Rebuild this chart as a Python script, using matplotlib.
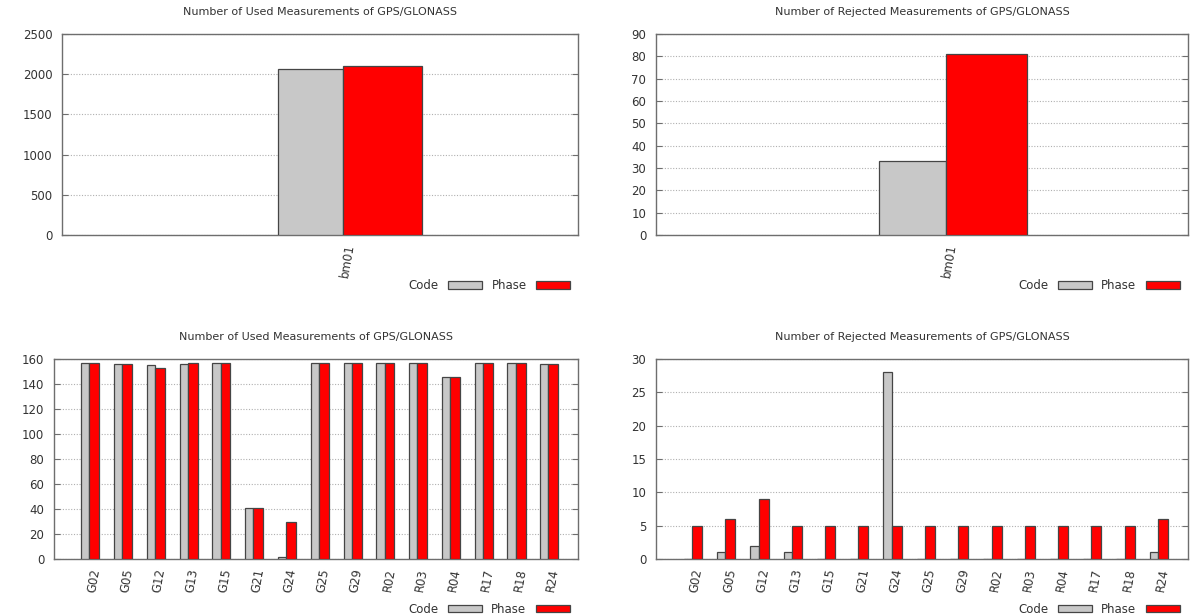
import numpy as np
import matplotlib
matplotlib.use('Agg')
import matplotlib.pyplot as plt
from matplotlib.patches import Patch

# station totals
stations = ['bm01']
used_code_sta = [2065]
used_phase_sta = [2102]
rej_code_sta = [33]
rej_phase_sta = [81]

# per satellite
sats = ['G02', 'G05', 'G12', 'G13', 'G15', 'G21', 'G24', 'G25', 'G29',
        'R02', 'R03', 'R04', 'R17', 'R18', 'R24']
used_code_sat = [157, 156, 155, 156, 157, 41, 2, 157, 157, 157, 157, 146, 157, 157, 156]
used_phase_sat = [157, 156, 153, 157, 157, 41, 30, 157, 157, 157, 157, 146, 157, 157, 156]
rej_code_sat = [0, 1, 2, 1, 0, 0, 28, 0, 0, 0, 0, 0, 0, 0, 1]
rej_phase_sat = [5, 6, 9, 5, 5, 5, 5, 5, 5, 5, 5, 5, 5, 5, 6]

GRAY = '#c8c8c8'
RED = '#ff0000'
EDGE = '#454545'
FRAME = '#6e6e6e'
TXT = '#333333'

plt.rcParams['font.family'] = 'DejaVu Sans'

fig = plt.figure(figsize=(11.92, 6.15), dpi=100)
W, H = 1192.0, 615.0


def px_axes(x0, y0, x1, y1):
    return fig.add_axes([x0 / W, 1 - y1 / H, (x1 - x0) / W, (y1 - y0) / H])


def draw(ax, labels, code, phase, ymax, ystep, title):
    n = len(labels)
    x = np.arange(n)
    ax.bar(x, code, width=-0.25, align='edge', color=GRAY, edgecolor=EDGE, linewidth=0.9, zorder=3)
    ax.bar(x, phase, width=0.3, align='edge', color=RED, edgecolor=EDGE, linewidth=0.9, zorder=3)
    ax.set_xlim(-1.08, n - 0.1)
    ax.set_ylim(0, ymax)
    ax.set_yticks(np.arange(0, ymax + ystep / 2, ystep))
    ax.set_xticks(x)
    ax.set_xticklabels(labels, rotation=80, ha='right', va='top', rotation_mode='anchor',
                       fontsize=8.5, color=TXT)
    ax.tick_params(axis='x', length=0, pad=6)
    ax.tick_params(axis='y', direction='in', length=4, color=FRAME, right=True,
                   labelsize=8.5, labelcolor=TXT, pad=7)
    ax.grid(axis='y', color='#b0b0b0', linestyle=(0, (1, 1.5)), linewidth=0.8, zorder=0)
    for s in ax.spines.values():
        s.set_color(FRAME)
        s.set_linewidth(1.0)
    ax.set_title(title, fontsize=8, color=TXT, pad=14)
    handles = [Patch(facecolor=GRAY, edgecolor=EDGE, linewidth=0.9),
               Patch(facecolor=RED, edgecolor=EDGE, linewidth=0.9)]
    ax.legend(handles, ['Code', 'Phase'], ncol=2, markerfirst=False, frameon=False,
              loc='upper right', bbox_to_anchor=(0.985, -0.22), fontsize=8.5,
              handlelength=2.9, handleheight=0.55, columnspacing=0.8, handletextpad=0.8,
              labelcolor=TXT, borderaxespad=0, borderpad=0)


ax1 = px_axes(62, 34, 578, 235)
draw(ax1, stations, used_code_sta, used_phase_sta, 2500, 500,
     'Number of Used Measurements of GPS/GLONASS')
ax2 = px_axes(656, 34, 1188, 235)
draw(ax2, stations, rej_code_sta, rej_phase_sta, 90, 10,
     'Number of Rejected Measurements of GPS/GLONASS')
ax3 = px_axes(54, 359, 578, 559)
draw(ax3, sats, used_code_sat, used_phase_sat, 160, 20,
     'Number of Used Measurements of GPS/GLONASS')
ax4 = px_axes(656, 359, 1188, 559)
draw(ax4, sats, rej_code_sat, rej_phase_sat, 30, 5,
     'Number of Rejected Measurements of GPS/GLONASS')

fig.savefig('out.png', dpi=100)
